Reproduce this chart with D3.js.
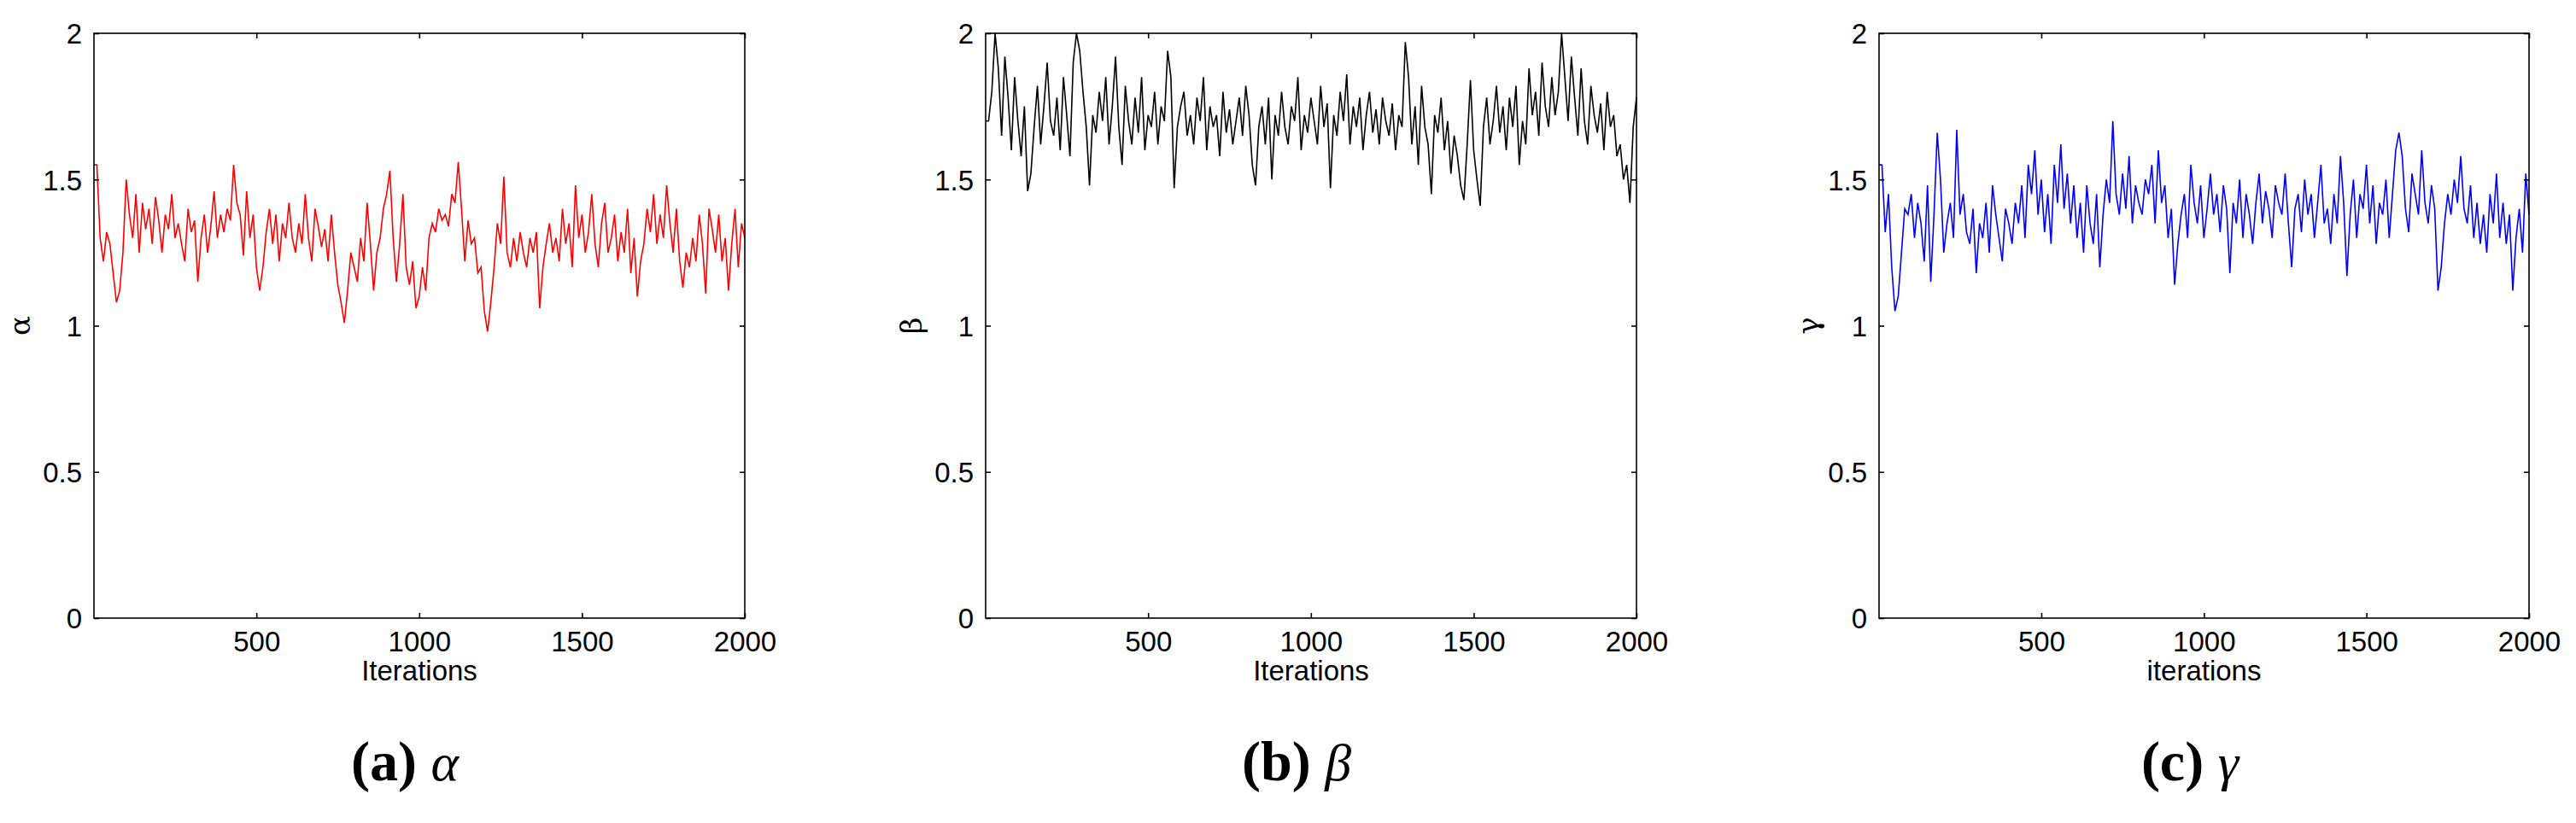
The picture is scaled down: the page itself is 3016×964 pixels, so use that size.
<!DOCTYPE html>
<html><head><meta charset="utf-8">
<script src="https://cdn.jsdelivr.net/npm/d3@7"></script>
<style>body{margin:0;background:#fff}svg{display:block}</style>
</head><body>
<svg id="c" width="3016" height="964"></svg>
<script>
const step = 10;
const alphaVals = [
1.55,1.30,1.22,1.32,1.28,1.18,1.08,1.12,1.25,1.50,1.38,1.30,1.45,1.25,1.42,1.33,1.40,1.28,1.44,1.36,
1.25,1.38,1.33,1.45,1.30,1.35,1.28,1.22,1.40,1.32,1.36,1.15,1.30,1.38,1.25,1.34,1.46,1.30,1.38,1.32,
1.40,1.36,1.55,1.42,1.38,1.24,1.46,1.30,1.38,1.20,1.12,1.20,1.32,1.40,1.28,1.38,1.22,1.35,1.30,1.42,
1.30,1.25,1.35,1.28,1.45,1.30,1.22,1.40,1.34,1.27,1.33,1.22,1.38,1.25,1.14,1.08,1.01,1.12,1.25,1.20,
1.15,1.30,1.22,1.42,1.28,1.12,1.25,1.30,1.40,1.45,1.53,1.30,1.15,1.28,1.45,1.20,1.14,1.22,1.06,1.10,
1.20,1.12,1.30,1.35,1.32,1.40,1.36,1.38,1.34,1.45,1.42,1.56,1.40,1.22,1.36,1.28,1.30,1.18,1.20,1.05,
0.98,1.08,1.20,1.35,1.28,1.51,1.25,1.20,1.30,1.22,1.32,1.25,1.20,1.30,1.25,1.32,1.06,1.20,1.28,1.35,
1.25,1.30,1.22,1.40,1.28,1.35,1.20,1.48,1.30,1.38,1.25,1.32,1.45,1.28,1.20,1.35,1.42,1.25,1.30,1.38,
1.22,1.32,1.25,1.40,1.18,1.30,1.10,1.22,1.28,1.40,1.32,1.45,1.28,1.38,1.30,1.48,1.35,1.25,1.40,1.22,
1.13,1.25,1.20,1.30,1.22,1.38,1.28,1.11,1.40,1.33,1.25,1.38,1.22,1.30,1.12,1.28,1.40,1.20,1.35,1.30];
const betaVals = [
1.70,1.80,2.00,1.88,1.65,1.92,1.78,1.60,1.85,1.70,1.58,1.75,1.46,1.52,1.68,1.82,1.62,1.75,1.90,1.70,
1.65,1.78,1.60,1.85,1.72,1.58,1.90,2.00,1.94,1.80,1.68,1.48,1.72,1.66,1.80,1.70,1.85,1.62,1.75,1.92,
1.68,1.55,1.82,1.70,1.62,1.78,1.66,1.85,1.60,1.72,1.68,1.80,1.62,1.75,1.70,1.94,1.85,1.47,1.68,1.75,
1.80,1.65,1.72,1.62,1.78,1.70,1.85,1.60,1.75,1.68,1.72,1.58,1.80,1.66,1.74,1.62,1.70,1.78,1.65,1.82,
1.72,1.55,1.48,1.68,1.75,1.62,1.78,1.50,1.72,1.65,1.80,1.68,1.62,1.75,1.70,1.85,1.60,1.72,1.66,1.78,
1.70,1.62,1.82,1.68,1.76,1.47,1.72,1.65,1.80,1.70,1.86,1.62,1.75,1.68,1.78,1.60,1.72,1.80,1.66,1.74,
1.62,1.78,1.70,1.65,1.76,1.60,1.72,1.68,1.97,1.85,1.62,1.75,1.55,1.82,1.68,1.62,1.45,1.72,1.66,1.78,
1.60,1.70,1.52,1.65,1.58,1.48,1.43,1.62,1.84,1.60,1.50,1.41,1.68,1.78,1.62,1.70,1.82,1.66,1.75,1.60,
1.78,1.68,1.82,1.55,1.70,1.62,1.88,1.72,1.80,1.65,1.90,1.75,1.68,1.85,1.72,1.80,2.00,1.85,1.70,1.92,
1.78,1.65,1.88,1.70,1.62,1.82,1.72,1.66,1.76,1.60,1.80,1.68,1.72,1.58,1.62,1.50,1.55,1.42,1.68,1.78];
const gammaVals = [
1.55,1.32,1.45,1.20,1.05,1.10,1.25,1.40,1.38,1.45,1.30,1.42,1.35,1.22,1.48,1.15,1.38,1.66,1.50,1.25,
1.35,1.42,1.30,1.67,1.38,1.45,1.32,1.28,1.40,1.18,1.35,1.30,1.42,1.25,1.48,1.38,1.30,1.22,1.40,1.35,
1.28,1.42,1.35,1.48,1.30,1.55,1.45,1.60,1.38,1.50,1.32,1.45,1.28,1.55,1.42,1.62,1.40,1.52,1.35,1.48,
1.30,1.42,1.25,1.48,1.35,1.28,1.45,1.20,1.38,1.50,1.42,1.70,1.45,1.38,1.52,1.40,1.58,1.35,1.48,1.42,
1.38,1.50,1.45,1.55,1.35,1.60,1.42,1.48,1.30,1.40,1.14,1.28,1.38,1.45,1.30,1.55,1.42,1.35,1.48,1.30,
1.40,1.52,1.38,1.45,1.32,1.48,1.40,1.18,1.42,1.35,1.50,1.30,1.45,1.38,1.28,1.42,1.52,1.35,1.46,1.40,
1.30,1.48,1.42,1.38,1.52,1.35,1.20,1.40,1.45,1.32,1.50,1.38,1.45,1.30,1.42,1.55,1.35,1.40,1.28,1.45,
1.35,1.58,1.42,1.17,1.38,1.50,1.30,1.45,1.40,1.55,1.35,1.48,1.28,1.42,1.38,1.50,1.30,1.45,1.60,1.66,
1.58,1.40,1.32,1.52,1.45,1.38,1.60,1.42,1.35,1.48,1.40,1.12,1.20,1.35,1.45,1.38,1.50,1.42,1.58,1.40,
1.35,1.48,1.30,1.42,1.28,1.38,1.25,1.45,1.35,1.52,1.30,1.42,1.28,1.38,1.12,1.30,1.40,1.25,1.52,1.38];
const xTicks = [500,1000,1500,2000];
const yTicks = [0,0.5,1,1.5,2];
const yLabels = ["α","β","γ"];
const xLabels = ["Iterations","Iterations","iterations"];
const capLetters = ["(a)","(b)","(c)"];
const capSymbols = ["α","β","γ"];
const colors = ["#ff0000","#000000","#0000ff"];
const seriesList = [alphaVals, betaVals, gammaVals];

const svg = d3.select("#c");
const panels = [{l:110,r:872,yl:25,cx:474},{l:1154,r:1916,yl:1069,cx:1518},{l:2200,r:2961,yl:2119,cx:2564}];
const plotTop = 39, plotBottom = 724;
const font = "'Liberation Sans', Arial, sans-serif";

panels.forEach((p, i) => {
  const x = d3.scaleLinear().domain([1,2000]).range([p.l,p.r]);
  const y = d3.scaleLinear().domain([0,2]).range([plotBottom,plotTop]);
  const g = svg.append("g");
  const data = seriesList[i].map((v,k)=>({it:(k+1)*step, v}));
  data.unshift({it:1, v:seriesList[i][0]});
  g.append("path").datum(data).attr("fill","none").attr("stroke",colors[i]).attr("stroke-width",1.6)
    .attr("d", d3.line().x(d=>x(d.it)).y(d=>y(d.v)));
  g.append("rect").attr("x",p.l).attr("y",plotTop).attr("width",p.r-p.l).attr("height",plotBottom-plotTop)
    .attr("fill","none").attr("stroke","#000").attr("stroke-width",1.6);
  const ax = g.append("g").attr("transform",`translate(0,${plotBottom})`)
    .call(d3.axisBottom(x).tickValues(xTicks).tickSize(-6).tickPadding(16).tickFormat(d3.format("d")));
  const axT = g.append("g").attr("transform",`translate(0,${plotTop})`)
    .call(d3.axisTop(x).tickValues(xTicks).tickSize(-6).tickFormat(""));
  const ay = g.append("g").attr("transform",`translate(${p.l},0)`)
    .call(d3.axisLeft(y).tickValues(yTicks).tickSize(-6).tickPadding(14).tickFormat(d=>String(d)));
  const ayR = g.append("g").attr("transform",`translate(${p.r},0)`)
    .call(d3.axisRight(y).tickValues(yTicks).tickSize(-6).tickFormat(""));
  [ax,axT,ay,ayR].forEach(a=>{a.select(".domain").remove();a.selectAll("line").attr("stroke","#000").attr("stroke-width",1.6);
    a.selectAll("text").attr("font-family",font).attr("font-size",33).attr("fill","#000");});
  ay.selectAll("text").attr("dy","0.36em");
  g.append("text").attr("x",(p.l+p.r)/2).attr("y",797).attr("text-anchor","middle")
    .attr("font-family",font).attr("font-size",33).text(xLabels[i]);
  g.append("text").attr("transform",`translate(${p.yl+10},${y(1)}) rotate(-90)`).attr("text-anchor","middle")
    .attr("font-family","'DejaVu Serif', serif").attr("font-size",34).text(yLabels[i]);
  const cap = g.append("text").attr("x",p.cx).attr("y",914).attr("text-anchor","middle");
  cap.append("tspan").attr("font-weight","bold").attr("font-family","'Liberation Serif', serif").attr("font-size",66).text(capLetters[i]+" ");
  cap.append("tspan").attr("font-style","italic").attr("font-family","'Liberation Serif', serif").attr("font-size",62).text(capSymbols[i]);
});
</script>
</body></html>
